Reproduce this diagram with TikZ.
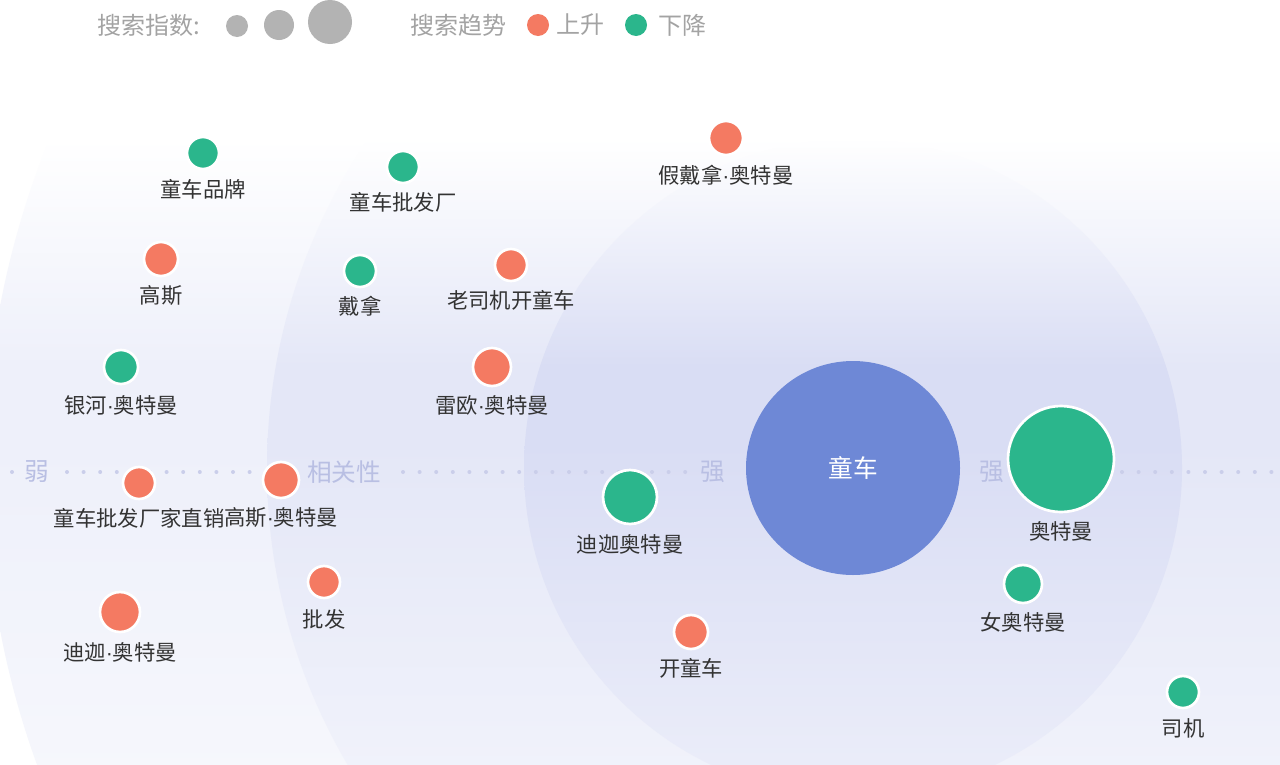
\documentclass[tikz,border=0pt]{standalone}
\usepackage{fontspec}
\newfontfamily\cjk{Noto Sans CJK SC}
\newfontfamily\latinf{Liberation Sans}
\newcommand\mdot{{\latinf\char"00B7}}
\definecolor{risec}{HTML}{F47A62}
\definecolor{fallc}{HTML}{2BB68C}
\definecolor{mainc}{HTML}{6E88D6}
\definecolor{ringa}{HTML}{EEF0FA}
\definecolor{ringb}{HTML}{E4E7F7}
\definecolor{ringc}{HTML}{D9DDF4}
\definecolor{axisc}{HTML}{B9BFE3}
\definecolor{dotc}{HTML}{CACEEA}
\definecolor{legc}{HTML}{B3B3B3}
\definecolor{legt}{HTML}{A3A3A3}
\definecolor{labc}{HTML}{333333}
\pgfdeclareverticalshading{shA}{100bp}{color(0bp)=(ringa!55!white); color(25bp)=(ringa!55!white); color(46bp)=(ringa); color(51bp)=(ringa); color(66bp)=(white); color(100bp)=(white)}
\pgfdeclareverticalshading{shB}{100bp}{color(0bp)=(ringb!55!white); color(25bp)=(ringb!55!white); color(46bp)=(ringb); color(51bp)=(ringb); color(66bp)=(white); color(100bp)=(white)}
\pgfdeclareverticalshading{shC}{100bp}{color(0bp)=(ringc!55!white); color(25bp)=(ringc!55!white); color(46bp)=(ringc); color(51bp)=(ringc); color(66bp)=(white); color(100bp)=(white)}
\begin{document}
\begin{tikzpicture}[x=0.75pt,y=-0.75pt,
  bubble/.style={circle,inner sep=0pt,minimum size=#1*1.5pt,draw=white,line width=2pt},
  risebub/.style={bubble=#1,fill=risec},
  fallbub/.style={bubble=#1,fill=fallc},
  legbub/.style={circle,inner sep=0pt,minimum size=#1*1.5pt,fill=legc},
  lab/.style={text=labc,font=\cjk\fontsize{16}{18}\selectfont,inner sep=0pt},
  legtext/.style={text=legt,font=\cjk\fontsize{18}{20}\selectfont,inner sep=0pt,anchor=west},
  axislab/.style={text=axisc,font=\cjk\fontsize{18.5}{20}\selectfont,inner sep=0pt}]
\useasboundingbox (0,0) rectangle (1280,764);
% background rings
\begin{scope}
  \clip (0,0) rectangle (1280,764);
  \fill[white] (0,0) rectangle (1280,764);
  \begin{scope}
    \clip (853,468) circle[radius=868];
    \shade[shading=shA] (0,0) rectangle (1280,764);
  \end{scope}
  \begin{scope}
    \clip (853,468) circle[radius=586];
    \shade[shading=shB] (0,0) rectangle (1280,764);
  \end{scope}
  \begin{scope}
    \clip (853,468) circle[radius=329];
    \shade[shading=shC] (0,0) rectangle (1280,764);
  \end{scope}
\end{scope}
% dotted axis
\foreach \x in {12,67,83.6,...,292,403,419.6,...,692,1122,1138.6,...,1280}
  \fill[dotc] (\x,472) circle[radius=2];
\node[axislab] (weak) at (37,472) {弱};
\node[axislab] (rel) at (344,472) {相关性};
\node[axislab] (stronga) at (713,472) {强};
\node[axislab] (strongb) at (992,472) {强};
% legend
\node[legtext] (legidx) at (97,25) {搜索指数:};
\node[legbub=11] (ls1) at (237,26) {};
\node[legbub=15] (ls2) at (279,25) {};
\node[legbub=22] (ls3) at (330,22) {};
\node[legtext] (legtrend) at (410,25) {搜索趋势};
\node[circle,inner sep=0pt,minimum size=16.5pt,fill=risec] (lrise) at (538,25) {};
\node[legtext] (lrisetxt) at (556,25) {上升};
\node[circle,inner sep=0pt,minimum size=16.5pt,fill=fallc] (lfall) at (636,25) {};
\node[legtext] (lfalltxt) at (658,25) {下降};
% centre
\node[circle,inner sep=0pt,minimum size=160.5pt,fill=mainc,text=white,font=\cjk\fontsize{18.5}{20}\selectfont] (main) at (853,468) {童车};
% bubbles
\node[fallbub=16] (b1) at (203,153) {};
\node[lab] (t1) at (203,189) {童车品牌};
\node[fallbub=16] (b2) at (403,167) {};
\node[lab] (t2) at (403,202) {童车批发厂};
\node[risebub=17] (b3) at (726,138) {};
\node[lab] (t3) at (726,175) {假戴拿\mdot 奥特曼};
\node[risebub=17] (b4) at (161,259) {};
\node[lab] (t4) at (161,296) {高斯};
\node[fallbub=16] (b5) at (360,271) {};
\node[lab] (t5) at (360,306) {戴拿};
\node[risebub=16] (b6) at (511,265) {};
\node[lab] (t6) at (511,300) {老司机开童车};
\node[fallbub=17] (b7) at (121,367) {};
\node[lab] (t7) at (121,405) {银河\mdot 奥特曼};
\node[risebub=19] (b8) at (492,367) {};
\node[lab] (t8) at (492,405) {雷欧\mdot 奥特曼};
\node[risebub=16] (b9) at (139,483) {};
\node[lab] (t9) at (139,518) {童车批发厂家直销};
\node[risebub=18] (b10) at (281,480) {};
\node[lab] (t10) at (281,518) {高斯\mdot 奥特曼};
\node[risebub=16] (b11) at (324,582) {};
\node[lab] (t11) at (324,619) {批发};
\node[risebub=20] (b12) at (120,612) {};
\node[lab] (t12) at (120,652) {迪迦\mdot 奥特曼};
\node[fallbub=27] (b13) at (630,497) {};
\node[lab] (t13) at (630,544) {迪迦奥特曼};
\node[fallbub=53] (b14) at (1061,459) {};
\node[lab] (t14) at (1061,531) {奥特曼};
\node[fallbub=19] (b15) at (1023,584) {};
\node[lab] (t15) at (1023,622) {女奥特曼};
\node[risebub=17] (b16) at (691,632) {};
\node[lab] (t16) at (691,668) {开童车};
\node[fallbub=16] (b17) at (1183,692) {};
\node[lab] (t17) at (1183,728) {司机};
\end{tikzpicture}
\end{document}
